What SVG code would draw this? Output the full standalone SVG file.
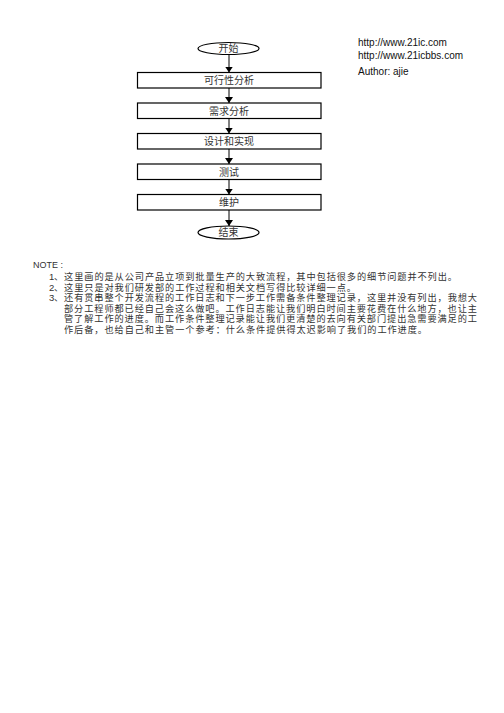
<svg xmlns="http://www.w3.org/2000/svg" width="504" height="713" viewBox="0 0 504 713">
<defs>
<style>
.shape{fill:#fff;stroke:#000;stroke-width:1.2}
.lbl{font-family:"Noto Sans CJK SC",sans-serif;font-size:10px;fill:#333;text-anchor:middle}
.url{font-family:"Liberation Sans",Arial,sans-serif;font-size:10px;fill:#111}
.note{font-family:"Noto Sans CJK SC",sans-serif;font-size:9.2px;fill:#333}
.num{font-family:"Liberation Sans",Arial,sans-serif;font-size:9.5px;fill:#333}
.conn{stroke:#000;stroke-width:1;fill:none;marker-end:url(#arr)}
</style>
<marker id="arr" viewBox="0 0 6 8" refX="6" refY="4" markerWidth="6" markerHeight="8" orient="auto" markerUnits="userSpaceOnUse">
<path d="M0,0 L6,4 L0,8 Z" fill="#000"/>
</marker>
</defs>
<rect width="504" height="713" fill="#fff"/>
<g id="connectors">
<line class="conn" x1="229" y1="54.5" x2="229" y2="72.5"/>
<line class="conn" x1="229" y1="88" x2="229" y2="103"/>
<line class="conn" x1="229" y1="118.5" x2="229" y2="133.5"/>
<line class="conn" x1="229" y1="149" x2="229" y2="164"/>
<line class="conn" x1="229" y1="179.5" x2="229" y2="194.5"/>
<line class="conn" x1="229" y1="210" x2="229" y2="226"/>
</g>
<g id="start">
<ellipse class="shape" cx="228.5" cy="48.5" rx="30.5" ry="6"/>
<text class="lbl" x="228.5" y="52">开始</text>
</g>
<g id="feasibility">
<rect class="shape" x="137.5" y="72.5" width="183.5" height="15.5"/>
<text class="lbl" x="229" y="84">可行性分析</text>
</g>
<g id="requirements">
<rect class="shape" x="137.5" y="103" width="183.5" height="15.5"/>
<text class="lbl" x="229" y="114.5">需求分析</text>
</g>
<g id="design">
<rect class="shape" x="137.5" y="133.5" width="183.5" height="15.5"/>
<text class="lbl" x="229" y="145">设计和实现</text>
</g>
<g id="test">
<rect class="shape" x="137.5" y="164" width="183.5" height="15.5"/>
<text class="lbl" x="229" y="175.5">测试</text>
</g>
<g id="maintain">
<rect class="shape" x="137.5" y="194.5" width="183.5" height="15.5"/>
<text class="lbl" x="229" y="206">维护</text>
</g>
<g id="end">
<ellipse class="shape" cx="228.5" cy="232.5" rx="30.5" ry="6.5"/>
<text class="lbl" x="228.5" y="236">结束</text>
</g>
<g id="info">
<text class="url" x="358" y="45.5">http://www.21ic.com</text>
<text class="url" x="358" y="59">http://www.21icbbs.com</text>
<text class="url" x="358" y="75">Author: ajie</text>
</g>
<g id="notes">
<text class="num" x="33" y="268" textLength="30" lengthAdjust="spacingAndGlyphs">NOTE :</text>
<text class="num" x="49" y="280">1</text>
<text class="note" x="54" y="280" textLength="403" lengthAdjust="spacing">、这里画的是从公司产品立项到批量生产的大致流程，其中包括很多的细节问题并不列出。</text>
<text class="num" x="49" y="290.6">2</text>
<text class="note" x="54" y="290.6" textLength="302" lengthAdjust="spacing">、这里只是对我们研发部的工作过程和相关文档写得比较详细一点。</text>
<text class="num" x="49" y="301.2">3</text>
<text class="note" x="54" y="301.2" textLength="423" lengthAdjust="spacing">、还有贯串整个开发流程的工作日志和下一步工作需备条件整理记录，这里并没有列出，我想大</text>
<text class="note" x="64" y="311.8" textLength="413" lengthAdjust="spacing">部分工程师都已经自己会这么做吧。工作日志能让我们明白时间主要花费在什么地方，也让主</text>
<text class="note" x="64" y="322.4" textLength="413" lengthAdjust="spacing">管了解工作的进度。而工作条件整理记录能让我们更清楚的去向有关部门提出急需要满足的工</text>
<text class="note" x="64" y="333" textLength="363" lengthAdjust="spacing">作后备，也给自己和主管一个参考：什么条件提供得太迟影响了我们的工作进度。</text>
</g>
</svg>
